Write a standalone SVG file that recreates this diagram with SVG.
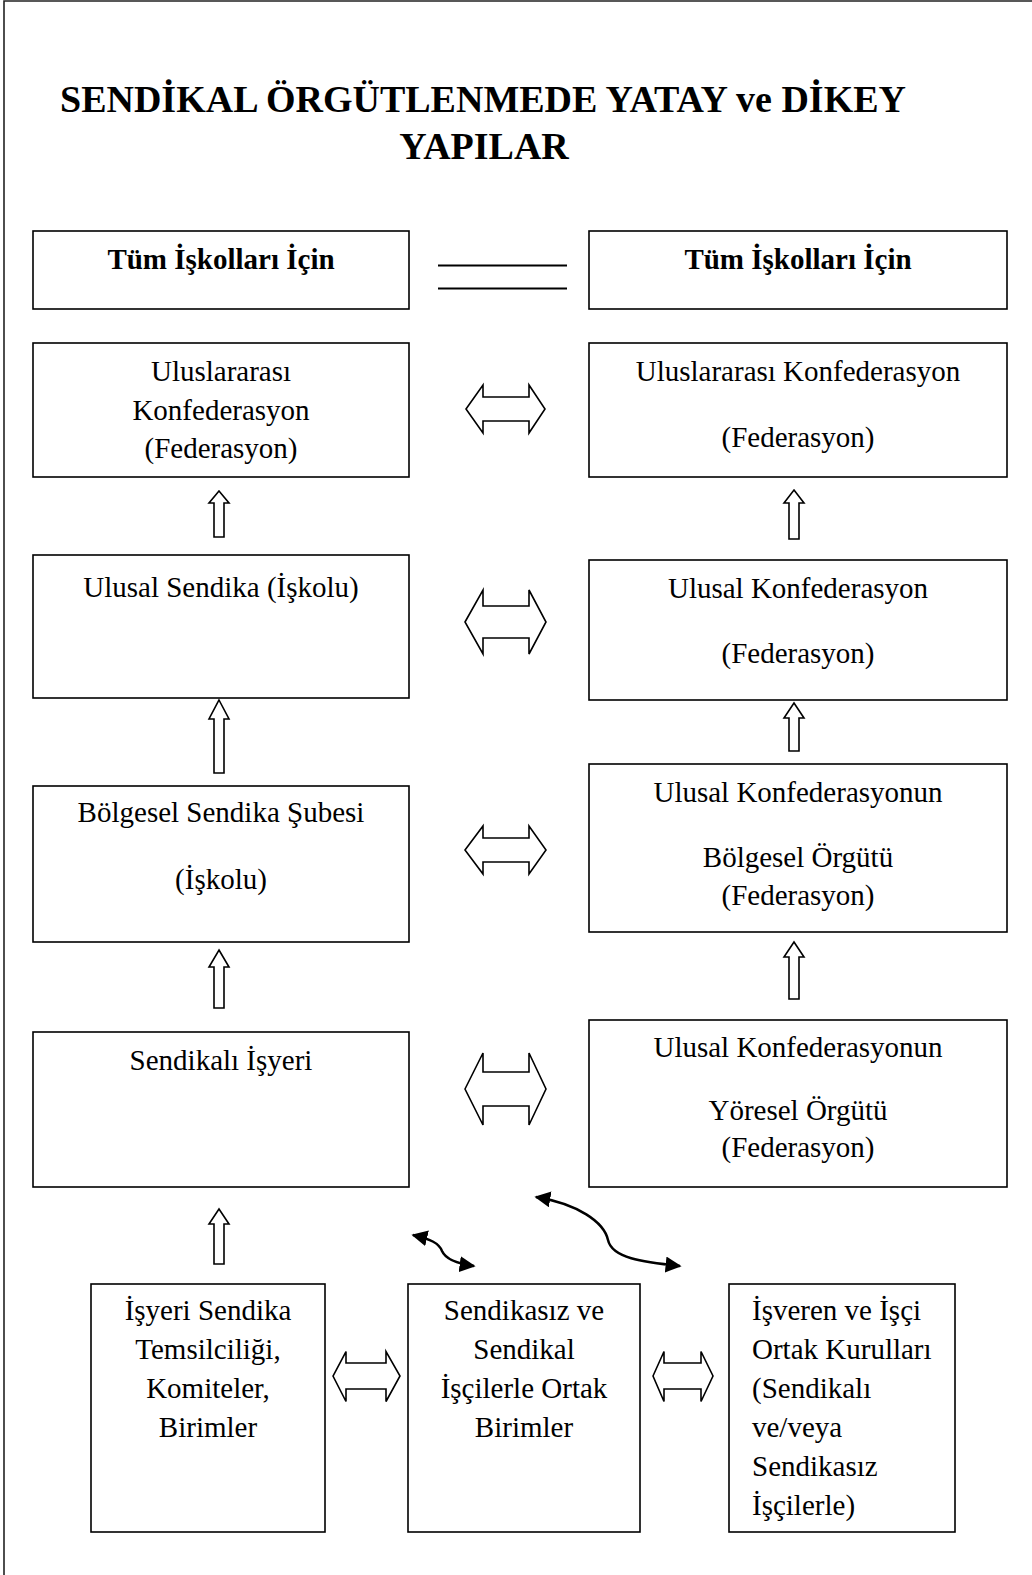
<svg xmlns="http://www.w3.org/2000/svg" width="1032" height="1575" viewBox="0 0 1032 1575">
<defs>
<style>
.box{fill:#fff;stroke:#000;stroke-width:1.6}
.t{font-family:"Liberation Serif","Times New Roman",serif;font-size:29px;fill:#000;text-anchor:middle}
.tl{font-family:"Liberation Serif","Times New Roman",serif;font-size:29px;fill:#000}
.b{font-weight:bold}
.title{font-family:"Liberation Serif","Times New Roman",serif;font-size:38px;font-weight:bold;fill:#000}
.arr{fill:#fff;stroke:#000;stroke-width:1.6;stroke-linejoin:miter}
.cv{fill:none;stroke:#000;stroke-width:2.5}
</style>
<marker id="ah" viewBox="0 0 10 10" refX="9" refY="5" markerWidth="6.4" markerHeight="6.4" orient="auto-start-reverse" markerUnits="strokeWidth">
<path d="M0,0 L10,5 L0,10 z" fill="#000"/>
</marker>
</defs>
<rect width="1032" height="1575" fill="#fff"/>
<path d="M4,1575 V1 H1032" fill="none" stroke="#222" stroke-width="1.6"/>

<g id="title">
<text class="title" x="60" y="112">SENDİKAL ÖRGÜTLENMEDE YATAY ve DİKEY</text>
<text class="title" x="484" y="159" text-anchor="middle">YAPILAR</text>
</g>

<g id="n_tum_left"><rect class="box" x="33" y="231" width="376" height="78"/><text class="t b" x="221" y="269">Tüm İşkolları İçin</text></g>
<g id="n_tum_right"><rect class="box" x="589" y="231" width="418" height="78"/><text class="t b" x="798" y="269">Tüm İşkolları İçin</text></g>

<g id="n_uluslararasi_left"><rect class="box" x="33" y="343" width="376" height="134"/>
<text class="t" x="221" y="381">Uluslararası</text><text class="t" x="221" y="420">Konfederasyon</text><text class="t" x="221" y="458">(Federasyon)</text></g>
<g id="n_uluslararasi_right"><rect class="box" x="589" y="343" width="418" height="134"/>
<text class="t" x="798" y="381">Uluslararası Konfederasyon</text><text class="t" x="798" y="447">(Federasyon)</text></g>

<g id="n_ulusal_sendika"><rect class="box" x="33" y="555" width="376" height="143"/>
<text class="t" x="221" y="597">Ulusal Sendika (İşkolu)</text></g>
<g id="n_ulusal_konf"><rect class="box" x="589" y="560" width="418" height="140"/>
<text class="t" x="798" y="598">Ulusal Konfederasyon</text><text class="t" x="798" y="663">(Federasyon)</text></g>

<g id="n_bolgesel_sube"><rect class="box" x="33" y="786" width="376" height="156"/>
<text class="t" x="221" y="822">Bölgesel Sendika Şubesi</text><text class="t" x="221" y="889">(İşkolu)</text></g>
<g id="n_bolgesel_orgut"><rect class="box" x="589" y="764" width="418" height="168"/>
<text class="t" x="798" y="802">Ulusal Konfederasyonun</text><text class="t" x="798" y="867">Bölgesel Örgütü</text><text class="t" x="798" y="905">(Federasyon)</text></g>

<g id="n_sendikali_isyeri"><rect class="box" x="33" y="1032" width="376" height="155"/>
<text class="t" x="221" y="1070">Sendikalı İşyeri</text></g>
<g id="n_yoresel_orgut"><rect class="box" x="589" y="1020" width="418" height="167"/>
<text class="t" x="798" y="1057">Ulusal Konfederasyonun</text><text class="t" x="798" y="1120">Yöresel Örgütü</text><text class="t" x="798" y="1157">(Federasyon)</text></g>

<g id="n_temsilcilik"><rect class="box" x="91" y="1284" width="234" height="248"/>
<text class="t" x="208" y="1320">İşyeri Sendika</text><text class="t" x="208" y="1359">Temsilciliği,</text><text class="t" x="208" y="1398">Komiteler,</text><text class="t" x="208" y="1437">Birimler</text></g>
<g id="n_ortak_birimler"><rect class="box" x="408" y="1284" width="232" height="248"/>
<text class="t" x="524" y="1320">Sendikasız ve</text><text class="t" x="524" y="1359">Sendikal</text><text class="t" x="524" y="1398">İşçilerle Ortak</text><text class="t" x="524" y="1437">Birimler</text></g>
<g id="n_ortak_kurullar"><rect class="box" x="729" y="1284" width="226" height="248"/>
<text class="tl" x="752" y="1320">İşveren ve İşçi</text><text class="tl" x="752" y="1359">Ortak Kurulları</text><text class="tl" x="752" y="1398">(Sendikalı</text><text class="tl" x="752" y="1437">ve/veya</text><text class="tl" x="752" y="1476">Sendikasız</text><text class="tl" x="752" y="1515">İşçilerle)</text></g>

<g id="connectors">
<line x1="438" y1="265.5" x2="567" y2="265.5" stroke="#000" stroke-width="2"/>
<line x1="438" y1="288.5" x2="567" y2="288.5" stroke="#000" stroke-width="2"/>

<path class="arr" d="M466,409 L483,385 L483,397 L529,397 L529,385 L545,409 L529,433 L529,421 L483,421 L483,433 Z"/>
<path class="arr" d="M465,622 L483,590 L483,606 L529,606 L529,590 L546,622 L529,654 L529,638 L483,638 L483,654 Z"/>
<path class="arr" d="M465,850 L483,826 L483,838 L529,838 L529,826 L546,850 L529,874 L529,862 L483,862 L483,874 Z"/>
<path class="arr" d="M465,1089 L483,1053 L483,1072 L529,1072 L529,1053 L546,1089 L529,1125 L529,1106 L483,1106 L483,1125 Z"/>
<path class="arr" d="M333,1376 L346,1351.5 L346,1363 L386,1363 L386,1351.5 L400,1376 L386,1401.5 L386,1389 L346,1389 L346,1401.5 Z"/>
<path class="arr" d="M653,1376 L664,1351.5 L664,1363 L701,1363 L701,1351.5 L713,1376 L701,1401.5 L701,1389 L664,1389 L664,1401.5 Z"/>

<path class="arr" d="M219,491 L229,503 L224,503 L224,537 L214,537 L214,503 L209,503 Z"/>
<path class="arr" d="M219,700 L229,719 L224,719 L224,773 L214,773 L214,719 L209,719 Z"/>
<path class="arr" d="M219,950 L229,967 L224,967 L224,1008 L214,1008 L214,967 L209,967 Z"/>
<path class="arr" d="M219,1209 L229,1224 L224,1224 L224,1264 L214,1264 L214,1224 L209,1224 Z"/>
<path class="arr" d="M794,490 L804,503 L799,503 L799,539 L789,539 L789,503 L784,503 Z"/>
<path class="arr" d="M794,703 L804,718 L799,718 L799,751 L789,751 L789,718 L784,718 Z"/>
<path class="arr" d="M794,942 L804,957 L799,957 L799,999 L789,999 L789,957 L784,957 Z"/>

<path class="cv" d="M413,1235 C430,1239 439,1243 442,1251 C446,1260 459,1264 474,1266" marker-start="url(#ah)" marker-end="url(#ah)"/>
<path class="cv" d="M536,1197 C578,1204 604,1222 608,1240 C612,1258 642,1262 680,1266" marker-start="url(#ah)" marker-end="url(#ah)"/>
</g>
</svg>
